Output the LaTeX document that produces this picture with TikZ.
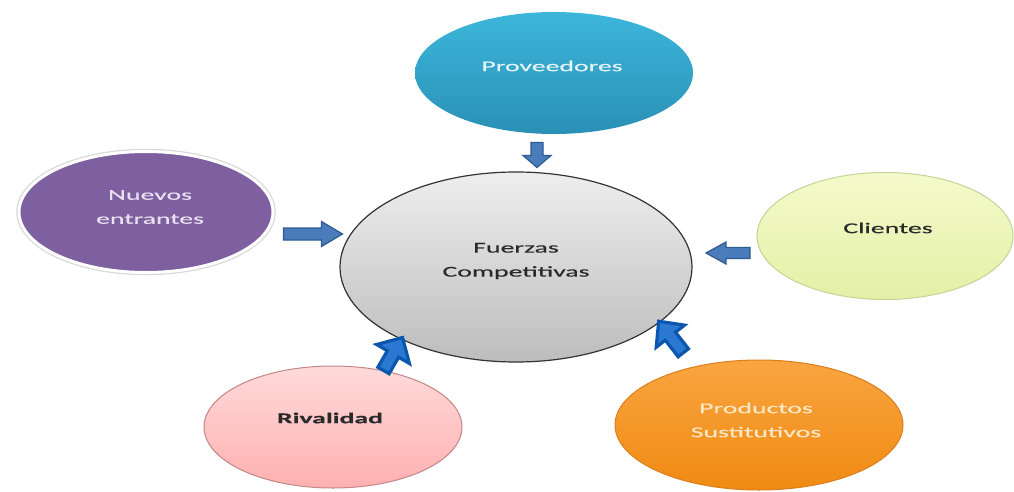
\documentclass[tikz,border=0pt]{standalone}
\usepackage{fontspec}
\setmainfont{Carlito}[FakeStretch=1.85,FakeBold=0.4]
\usetikzlibrary{shapes.geometric}
\definecolor{provTop}{HTML}{3DB6DB}
\definecolor{provBot}{HTML}{2A90B5}
\definecolor{provTxt}{HTML}{E4F4FA}
\definecolor{nuevFill}{HTML}{7E5F9F}
\definecolor{nuevTxt}{HTML}{E9E1F1}
\definecolor{cliTop}{HTML}{F4FACB}
\definecolor{cliBot}{HTML}{E4F0A6}
\definecolor{cliBorder}{HTML}{C2D496}
\definecolor{rivTop}{HTML}{FFDADA}
\definecolor{rivBot}{HTML}{FFB0B0}
\definecolor{rivBorder}{HTML}{C48686}
\definecolor{proTop}{HTML}{F9A540}
\definecolor{proBot}{HTML}{F08A12}
\definecolor{proBorder}{HTML}{DB7E1E}
\definecolor{proTxt}{HTML}{FCE7C6}
\definecolor{fzTop}{HTML}{EEEEEE}
\definecolor{fzBot}{HTML}{BDBDBD}
\definecolor{darkTxt}{HTML}{2A2A2A}
\definecolor{arrFill}{HTML}{4A7CBC}
\definecolor{arrLine}{HTML}{2F5A92}
\definecolor{arrFillB}{HTML}{2A78D2}
\definecolor{arrLineB}{HTML}{0C56AE}
\tikzset{
  force/.style={ellipse, inner sep=0pt},
  lbl/.style={align=center, inner sep=0pt, font=\fontsize{15}{24}\selectfont},
  arrA/.style={fill=arrFill, draw=arrLine, line width=1.2pt, line join=miter},
  arrB/.style={fill=arrFillB, draw=arrLineB, line width=3.2pt, line join=miter},
}
% #1 style, #2 center, #3 angle, #4 length, #5 head length, #6 body width, #7 head width
\newcommand\blockarrow[7]{%
  \begin{scope}[shift={(#2)},rotate=#3]
    \path[#1] (-#4/2,-#6/2) -- (#4/2-#5,-#6/2) -- (#4/2-#5,-#7/2) -- (#4/2,0)
      -- (#4/2-#5,#7/2) -- (#4/2-#5,#6/2) -- (-#4/2,#6/2) -- cycle;
  \end{scope}}
\begin{document}
\begin{tikzpicture}[x=1pt,y=-1pt]
\useasboundingbox (0,0) rectangle (1014,492);
\clip (0,0) rectangle (1014,492);
% ellipses
\node[force, minimum width=278pt, minimum height=122pt, top color=provTop, bottom color=provBot] (prov) at (554,73) {};
\node[force, minimum width=254pt, minimum height=121pt, fill=nuevFill, draw=white, line width=3pt,
      preaction={draw=black!15, line width=5.5pt}] (nuev) at (146,212) {};
\node[force, minimum width=256pt, minimum height=127pt, top color=cliTop, bottom color=cliBot, draw=cliBorder, line width=1pt] (cli) at (885,236) {};
\node[force, minimum width=258pt, minimum height=122pt, top color=rivTop, bottom color=rivBot, draw=rivBorder, line width=1pt] (riv) at (333,427) {};
\node[force, minimum width=288pt, minimum height=130pt, top color=proTop, bottom color=proBot, draw=proBorder, line width=1pt] (prod) at (759,425) {};
\node[force, minimum width=352pt, minimum height=190pt, top color=fzTop, bottom color=fzBot, draw=black!80, line width=1.2pt] (fz) at (516,267) {};
% labels
\node[lbl, text=provTxt] (tprov) at (552,66) {Proveedores};
\node[lbl, text=nuevTxt] (tnuev) at (150,207) {Nuevos\\entrantes};
\node[lbl, text=darkTxt] (tcli) at (888,228) {Clientes};
\node[lbl, text=darkTxt, font=\fontsize{15}{24}\selectfont\bfseries] (triv) at (330,418) {Rivalidad};
\node[lbl, text=proTxt] (tprod) at (756,420) {Productos\\Sustitutivos};
\node[lbl, text=darkTxt] (tfz) at (516,261) {Fuerzas\\Competitivas};
% arrows
\blockarrow{arrA}{537,155}{-90}{25}{12}{12}{28}
\blockarrow{arrA}{313,234}{0}{59}{21}{12}{25}
\blockarrow{arrA}{728,253}{180}{44}{20}{11}{22}
\blockarrow{arrB}{393,354}{60}{38}{19}{13}{38}
\blockarrow{arrB}{671,337}{128}{40}{19}{13}{36}
\end{tikzpicture}
\end{document}
